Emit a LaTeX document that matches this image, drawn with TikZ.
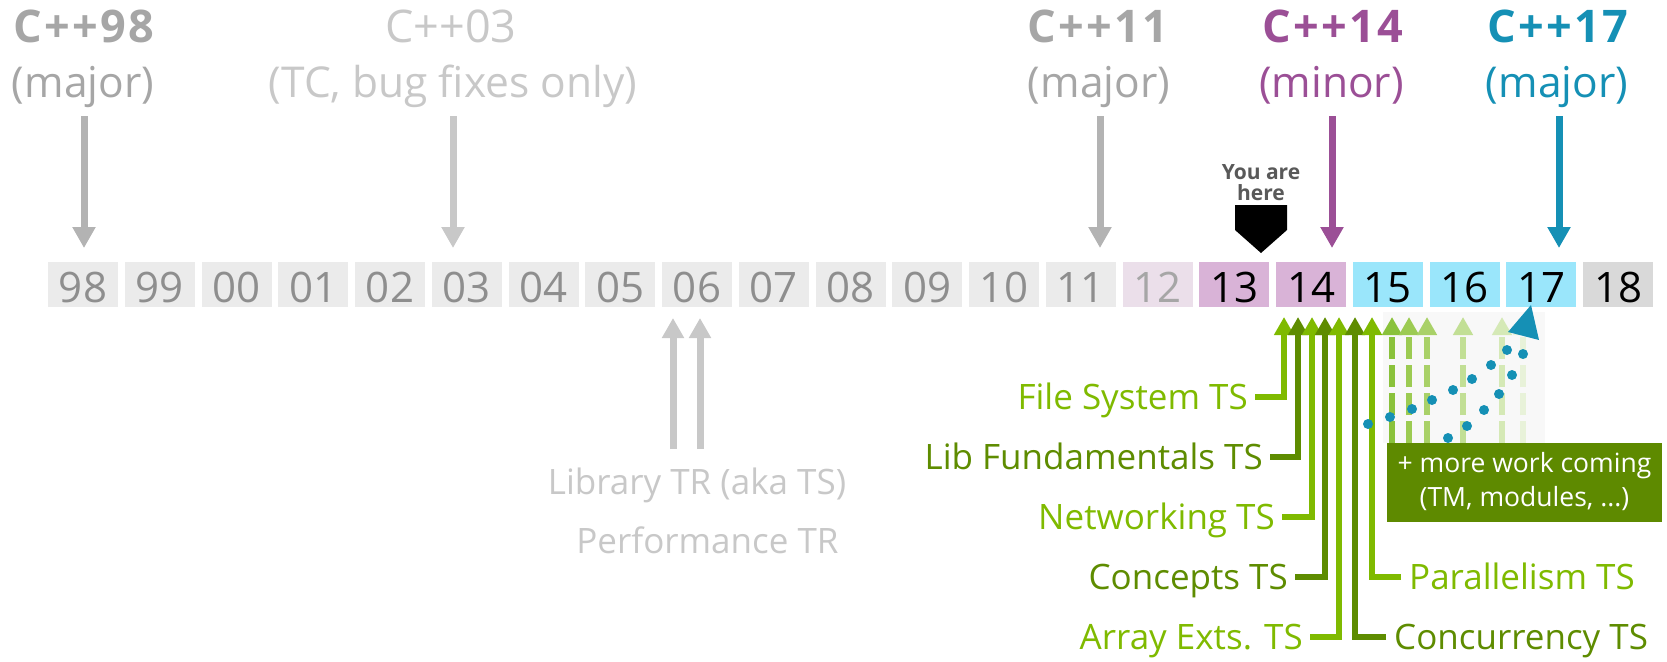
\documentclass[tikz,border=0pt]{standalone}
\usepackage{fontspec}
\setmainfont{Open Sans}
\newfontfamily\titlefont[LetterSpace=5]{Open Sans}
\usetikzlibrary{arrows.meta}
\definecolor{boxgray}{HTML}{EBEBEB}
\definecolor{digitgray}{HTML}{8E8E8E}
\definecolor{boxpale}{HTML}{EBDFEA}
\definecolor{digitpale}{HTML}{A6A6A6}
\definecolor{boxlilac}{HTML}{D9B3D7}
\definecolor{boxcyan}{HTML}{9AE6FB}
\definecolor{boxlast}{HTML}{D9D9D9}
\definecolor{titlegray}{HTML}{A6A6A6}
\definecolor{arrgray}{HTML}{B3B3B3}
\definecolor{lightgray}{HTML}{C8C8C8}
\definecolor{cpppurple}{HTML}{9B4F96}
\definecolor{cppteal}{HTML}{1590B5}
\definecolor{hereclr}{HTML}{595959}
\definecolor{greenL}{HTML}{7FBA00}
\definecolor{greenD}{HTML}{5E8C00}
\definecolor{boxgreen}{HTML}{5E8A00}
\definecolor{dashA}{HTML}{8AC23B}
\definecolor{dashB}{HTML}{9CCB52}
\definecolor{dashC}{HTML}{A9D168}
\definecolor{dashD}{HTML}{C2DF95}
\definecolor{dashE}{HTML}{D5E9B6}
\definecolor{dashF}{HTML}{E8F2D9}
\definecolor{faintbg}{HTML}{F8F8F8}
\begin{document}
\begin{tikzpicture}[x=1pt,y=-1pt,
  yearbox/.style={minimum width=70pt,minimum height=45pt,inner sep=0pt,
    text height=35pt,text depth=0pt,font=\fontsize{42}{42}\selectfont},
  titletext/.style={anchor=base,inner sep=0pt,font=\titlefont\fontsize{45}{45}\selectfont\bfseries},
  subtext/.style={anchor=base,inner sep=0pt,font=\fontsize{42.5}{42.5}\selectfont},
  downarrow/.style={line width=7pt,-{Triangle[width=22pt,length=21pt]}},
  uparrow/.style={line width=7pt,-{Triangle[width=21pt,length=20pt]}},
  tsarrow/.style={line width=6pt,line join=miter,-{Triangle[width=19pt,length=18pt]}},
  dasharrow/.style={line width=6pt,dash pattern=on 22pt off 6pt,-{Triangle[width=19pt,length=18pt]}},
  tsleft/.style={anchor=east,inner xsep=7pt,inner ysep=0pt,text height=25pt,text depth=0pt,
    font=\fontsize{35}{35}\selectfont},
  tsright/.style={anchor=west,inner xsep=8pt,inner ysep=0pt,text height=25pt,text depth=0pt,
    font=\fontsize{35}{35}\selectfont},
  grayts/.style={anchor=base,inner sep=0pt,text=lightgray,font=\fontsize{35}{35}\selectfont},
  heretext/.style={anchor=base,inner sep=0pt,text=hereclr,font=\fontsize{21}{21}\selectfont\bfseries},
  bluedot/.style={fill=cppteal}
]
\useasboundingbox (0,0) rectangle (1667,661);

% ---------- year boxes ----------
\foreach \lab/\fc/\tc [count=\i from 0] in {
  98/boxgray/digitgray, 99/boxgray/digitgray, 00/boxgray/digitgray, 01/boxgray/digitgray,
  02/boxgray/digitgray, 03/boxgray/digitgray, 04/boxgray/digitgray, 05/boxgray/digitgray,
  06/boxgray/digitgray, 07/boxgray/digitgray, 08/boxgray/digitgray, 09/boxgray/digitgray,
  10/boxgray/digitgray, 11/boxgray/digitgray, 12/boxpale/digitpale, 13/boxlilac/black,
  14/boxlilac/black, 15/boxcyan/black, 16/boxcyan/black, 17/boxcyan/black, 18/boxlast/black}
{
  \node[yearbox,fill=\fc,text=\tc] (y\lab) at ({83+76.75*\i},284.5) {\lab};
}

% ---------- headers ----------
\node[titletext,text=titlegray] (t98) at (84,43) {C++98};
\node[subtext,text=titlegray] (s98) at (83,97) {(major)};
\node[subtext,font=\fontsize{45}{45}\selectfont,text=lightgray] (t03) at (451,43) {C++03};
\node[subtext,text=lightgray] (s03) at (453,97) {(TC, bug fixes only)};
\node[titletext,text=titlegray] (t11) at (1098,43) {C++11};
\node[subtext,text=titlegray] (s11) at (1099,97) {(major)};
\node[titletext,text=cpppurple] (t14) at (1332.5,43) {C++14};
\node[subtext,text=cpppurple] (s14) at (1331.5,97) {(minor)};
\node[titletext,text=cppteal] (t17) at (1557.5,43) {C++17};
\node[subtext,text=cppteal] (s17) at (1557,97) {(major)};

% ---------- header arrows ----------
\coordinate (a98s) at (84,116);   \coordinate (a98e) at (84,248);
\coordinate (a03s) at (453,116);  \coordinate (a03e) at (453,248);
\coordinate (a11s) at (1100,116); \coordinate (a11e) at (1100,248);
\coordinate (a14s) at (1332,116); \coordinate (a14e) at (1332,248);
\coordinate (a17s) at (1559,116); \coordinate (a17e) at (1559,248);
\draw[downarrow,draw=arrgray] (a98s) -- (a98e);
\draw[downarrow,draw=lightgray] (a03s) -- (a03e);
\draw[downarrow,draw=arrgray] (a11s) -- (a11e);
\draw[downarrow,draw=cpppurple] (a14s) -- (a14e);
\draw[downarrow,draw=cppteal] (a17s) -- (a17e);

% ---------- you are here ----------
\node[heretext] (here1) at (1261,179) {You are};
\node[heretext] (here2) at (1261,200) {here};
\fill[black] (1235,205) -- (1287,205) -- (1287,230) -- (1261,253) -- (1235,230) -- cycle;

% ---------- TR arrows ----------
\node[grayts] (libtr) at (697,494) {Library TR (aka TS)};
\node[grayts] (perftr) at (707.5,553) {Performance TR};
\coordinate (tr1s) at (673,449); \coordinate (tr1e) at (673,318);
\coordinate (tr2s) at (700,449); \coordinate (tr2e) at (700,318);
\draw[uparrow,draw=lightgray] (tr1s) -- (tr1e);
\draw[uparrow,draw=lightgray] (tr2s) -- (tr2e);

% ---------- faint background ----------
\fill[faintbg] (1383,312) rectangle (1545,443);

% ---------- dashed future arrows ----------
\foreach \x/\c in {1392/dashA,1409/dashB,1427/dashC,1463/dashD,1502/dashE,1523/dashF}
{
  \coordinate (ds\x) at (\x,443);
  \coordinate (de\x) at (\x,317);
  \draw[dasharrow,draw=\c] (ds\x) -- (de\x);
}

% ---------- TS labels and arrows ----------
\node[tsleft,text=greenL] (fs) at (1255,397) {File System TS};
\node[tsleft,text=greenD] (lf) at (1270,457) {Lib Fundamentals TS};
\node[tsleft,text=greenL] (nw) at (1282,517) {Networking TS};
\node[tsleft,text=greenD] (cc) at (1295,577) {Concepts TS};
\node[tsleft,text=greenL] (ae) at (1310,637) {Array Exts. TS};
\node[tsright,text=greenD] (cu) at (1386,637) {Concurrency TS};
\node[tsright,text=greenL] (pa) at (1401,577) {Parallelism TS};

\coordinate (fsT) at (1284,317);
\coordinate (lfT) at (1298,317);
\coordinate (nwT) at (1312,317);
\coordinate (ccT) at (1325,317);
\coordinate (aeT) at (1339,317);
\coordinate (cuT) at (1355,317);
\coordinate (paT) at (1372,317);
\draw[tsarrow,draw=greenL] (fs.east) -| (fsT);
\draw[tsarrow,draw=greenD] (lf.east) -| (lfT);
\draw[tsarrow,draw=greenL] (nw.east) -| (nwT);
\draw[tsarrow,draw=greenD] (cc.east) -| (ccT);
\draw[tsarrow,draw=greenL] (ae.east) -| (aeT);
\draw[tsarrow,draw=greenD] (cu.west) -| (cuT);
\draw[tsarrow,draw=greenL] (pa.west) -| (paT);

% ---------- blue dotted arrow ----------
\foreach \p in {(1368,424),(1390,417),(1412,409),(1432,400),(1453,390),(1472,379),(1491,365),(1507,350),
                (1448,438),(1467,426),(1484,410),(1499,394),(1512,375),(1523,354)}
{
  \fill[bluedot] \p circle (5pt);
}
\fill[cppteal] (1508,332) -- (1531,305) -- (1539,340) -- cycle;

% ---------- more work box ----------
\node[fill=boxgreen,text=white,minimum width=275pt,minimum height=79pt,inner sep=0pt,
  align=center,font=\fontsize{26.5}{34}\selectfont] (more) at (1524.5,482)
  {+ more work coming\\(TM, modules, ...)};
\end{tikzpicture}
\end{document}
